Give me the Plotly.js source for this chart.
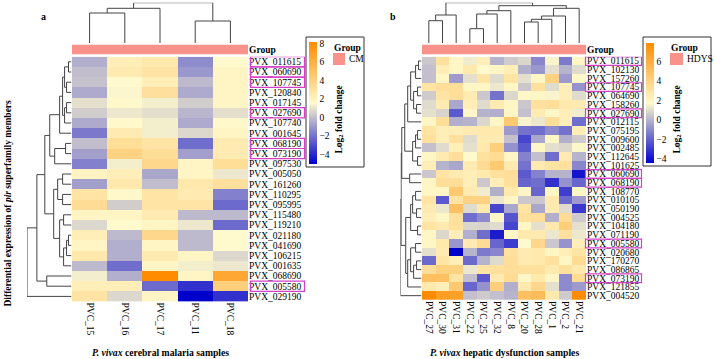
<!DOCTYPE html>
<html><head><meta charset="utf-8">
<script src="https://cdn.plot.ly/plotly-3.0.1.min.js"></script>
<style>html,body{margin:0;padding:0;background:#fff}#chart{width:714px;height:359px}</style>
</head><body><div id="chart"></div>
<script>
// ---------- DATA ----------
const colsA = ['PVC_15','PVC_16','PVC_17','PVC_11','PVC_18'];
const rowsA = ['PVX_011615','PVX_060690','PVX_107745','PVX_120840','PVX_017145','PVX_027690','PVX_107740','PVX_001645','PVX_068190','PVX_073190','PVX_097530','PVX_005050','PVX_161260','PVX_110295','PVX_095995','PVX_115480','PVX_119210','PVX_021180','PVX_041690','PVX_106215','PVX_001635','PVX_068690','PVX_005580','PVX_029190'];
const valuesA = [
 [-0.4, 2.3, 2.7, -1.3, 1.6],
 [ 0.0, 2.5, 2.9, -1.0, 1.9],
 [ 0.1, 1.6, 2.3, -0.1, 1.9],
 [-0.5, 1.5, 3.2, -0.5, 1.9],
 [ 0.9, 1.7, 1.3,  0.4, 1.9],
 [ 0.4, 1.1, 0.9, -0.2, 0.9],
 [-0.5, 1.7, 1.3, -0.5, 1.7],
 [-1.8, 2.5, 1.3,  0.7, 1.9],
 [ 0.0, 3.3, 2.9, -2.1, 2.5],
 [-0.8, 4.0, 3.3, -0.8, 2.5],
 [-1.6, 1.3, 3.7,  1.9, 3.3],
 [ 2.0, 2.3, -0.6, 1.9, 1.1],
 [-0.8, 2.7, 0.0,  2.7, 3.2],
 [ 2.9, 1.7, 2.9,  2.5, -1.6],
 [ 3.4, 0.4, 2.9,  2.9, -2.2],
 [ 1.9, 1.9, 2.5, -0.1, -0.1],
 [ 0.7, 1.6, 1.9,  1.1, -2.2],
 [ 2.3, -0.1, 3.7, -0.1, 1.6],
 [ 1.9, -0.4, 1.9, -0.1, 1.6],
 [ 2.7, -0.4, 2.5,  1.9, 0.7],
 [-0.1, -2.1, 1.9,  1.3, 1.1],
 [ 1.3, -0.4, 8.2,  1.9, 6.6],
 [ 2.3, 2.3, -2.2, -3.7, 4.2],
 [ 2.9, 0.7, 1.9, -5.0, -3.7]
];
const highlightA = ['PVX_011615','PVX_060690','PVX_107745','PVX_027690','PVX_068190','PVX_073190','PVX_005580'];
const groupA = 'CM';
const rangeA = [-5.0, 8.2];
const ticksA = [-4,-2,0,2,4,6,8];
// dendrograms: [childA, childB, height]; negative = leaf (1-based), positive = earlier merge (1-based)
const treeColsA = [[-1,-2,30],[1,-3,34.7],[-4,-5,22],[2,3,40.3]];
const treeRowsA = [
 [-1,-2,3],[-3,-4,5],[1,2,7],[-5,-6,5],[4,-7,7],[3,5,9],[6,-8,12],[-9,-10,6],[8,-11,17],[7,9,22],
 [-12,-13,9],[-14,-15,9],[11,12,14],[-16,-17,8],[-18,-19,3],[15,-20,5],[16,-21,8],[14,17,12],[13,18,18],
 [10,19,27],[-22,-23,25],[20,21,35],[22,-24,45]
];

const colsB = ['PVC_27','PVC_30','PVC_31','PVC_22','PVC_25','PVC_32','PVC_8','PVC_20','PVC_28','PVC_1','PVC_2','PVC_21'];
const rowsB = ['PVX_011615','PVX_102130','PVX_157260','PVX_107745','PVX_064690','PVX_158260','PVX_027690','PVX_012115','PVX_075195','PVX_009600','PVX_002485','PVX_112645','PVX_101625','PVX_060690','PVX_068190','PVX_108770','PVX_010105','PVX_050190','PVX_004525','PVX_104180','PVX_071190','PVX_005580','PVX_020680','PVX_170270','PVX_086865','PVX_073190','PVX_121855','PVX_004520'];
const valuesB = [
 [0.5, 3.2, 2.0, 1.4, 2.4, 0.0, 0.6, 0.9, -1.1, 1.6, -1.4, 2.0],
 [0.3, 2.4, 2.0, 2.7, 1.75, 2.0, 2.4, -0.1, -0.7, 1.1, 0.0, 1.0],
 [0.3, 2.0, -0.6, 1.1, 3.0, 1.0, 3.0, 1.1, 2.0, 4.0, -0.6, 1.9],
 [3.0, 3.3, 3.3, 2.0, 2.0, 1.3, 2.0, 0.5, 3.2, 1.0, 2.4, -0.8],
 [0.6, 3.0, 3.3, 2.6, 0.5, -1.6, 0.9, 1.9, 2.0, 1.6, 2.4, 1.0],
 [1.0, 2.6, -0.3, 2.4, 1.0, 2.6, 2.0, 0.5, 3.2, 3.3, 2.7, 2.6],
 [1.1, 0.8, -2.2, 1.9, 0.0, -0.1, 2.0, 0.3, 2.6, 1.9, 2.4, 1.4],
 [2.0, 3.3, -0.1, 0.0, 0.9, 2.0, 4.5, 1.6, 1.3, 3.3, 2.4, -1.7],
 [3.0, 2.4, 2.4, 2.6, 2.7, 2.7, -0.6, -1.6, -1.7, -1.0, -1.6, 2.4],
 [3.2, 2.4, 3.2, 1.0, 2.6, 2.6, 0.3, -2.7, -0.3, 2.0, -0.1, 0.6],
 [0.3, 1.0, 2.4, 1.1, 2.7, 4.2, -0.8, -2.2, 2.0, 1.1, 0.9, 1.9],
 [2.0, 2.6, 3.3, 1.75, 3.2, 3.5, 2.0, -1.2, 0.3, -1.7, 2.6, 0.0],
 [2.4, 0.0, -0.3, 2.6, 3.5, 4.5, 2.6, -1.6, 2.6, 3.0, 3.2, -1.1],
 [0.5, 3.0, 2.6, 2.4, 2.7, 3.2, 3.3, -2.2, -1.2, 0.0, 0.0, -3.9],
 [2.0, 3.3, 3.3, 2.4, 0.5, 2.4, 3.2, -1.9, -1.7, -3.2, -0.8, -1.9],
 [2.0, 2.0, 4.5, 2.6, 1.4, -0.1, 2.7, 2.0, -1.9, 2.0, -2.9, 2.0],
 [3.0, -2.2, 3.0, 4.0, 4.0, 1.3, 2.0, 0.5, 0.5, 2.7, -1.8, -0.6],
 [2.6, 1.3, 5.0, 1.0, 2.7, -2.7, -0.3, 3.0, -0.3, 2.6, 1.0, -3.0],
 [2.4, 2.0, 3.2, -1.7, -1.0, 2.0, -2.3, 3.2, 3.3, -0.1, 3.5, 0.6],
 [3.0, 2.7, 3.2, 0.9, 0.8, 1.0, -2.7, 2.0, 1.1, 2.7, 4.2, 1.1],
 [2.0, 0.9, 2.4, -0.1, -1.7, -3.7, 1.9, 2.7, 2.6, 1.3, 3.2, 1.3],
 [2.0, 2.7, -0.7, 2.6, 3.5, -1.9, -2.9, 1.75, 3.7, 0.5, -0.8, 2.4],
 [1.1, 2.6, -4.4, 0.0, -1.4, -1.1, 3.2, 2.6, 2.7, 2.0, 2.4, 3.0],
 [-1.8, 3.0, 2.4, -1.8, 0.0, 1.0, 3.3, 2.6, 2.7, 3.2, 2.0, 3.5],
 [3.3, 4.0, 4.0, 1.3, 3.0, 3.2, 3.3, 3.2, 3.2, 2.7, 3.2, 2.7],
 [5.0, 5.0, 3.0, 0.3, -2.2, 2.6, 3.5, 1.9, 2.7, 2.0, -1.0, 3.5],
 [2.7, 2.4, 4.5, -1.9, -0.8, 4.2, -0.1, 2.7, 3.7, 1.1, -1.0, -0.6],
 [7.9, 6.9, 6.7, 0.3, 0.6, 0.3, 0.0, 5.0, 5.2, 2.7, 0.6, 7.9]
];
const highlightB = ['PVX_011615','PVX_107745','PVX_027690','PVX_060690','PVX_068190','PVX_005580','PVX_073190'];
const groupB = 'HDYS';
const rangeB = [-4.4, 7.9];
const ticksB = [-4,-2,0,2,4,6];
const treeColsB = [[-1,-2,22.3],[1,-3,28],[-4,-5,14.3],[3,-6,29],[4,-7,32.3],[-8,-9,21],[6,-10,23.7],[7,-11,27],[8,-12,34.7],[5,9,37.3],[2,10,40.3]];
const treeRowsB = [
 [-1,-2,3],[1,-3,6],[-4,-5,4],[-6,-7,5],[3,4,8],[2,5,11],[6,-8,14],
 [-9,-10,4],[8,-11,6],[-12,-13,4],[9,10,9],[7,11,17],
 [-14,-15,12],
 [-16,-17,6],[-18,-19,5],[14,15,9],[-20,-21,4],[16,17,11],
 [-22,-23,6],[-24,-25,5],[20,-26,8],[19,21,11],[22,-27,14],[18,23,16],
 [12,13,20],[25,24,20.7],[26,-28,21.3]
];

// ---------- STYLE ----------
const W = 714, H = 359;
const FONT = 'Liberation Serif, Times New Roman, serif';
const colorscale = [[0,'#0000CD'],[0.5,'#FFFACD'],[1,'#FF8C00']];
const groupColor = '#F9928A';
const lineColor = '#444444';
const boxColor = '#D83FC8';
const px = v => v / W;
const py = v => 1 - v / H;
const idx = n => Array.from({length:n}, (_, i) => i);

function dendro(tree) {
  const pos = [], ht = [], p = [], h = [];
  const get = c => c < 0 ? [-c - 1, 0] : [pos[c - 1], ht[c - 1]];
  tree.forEach(m => {
    const [pa, ha] = get(m[0]), [pb, hb] = get(m[1]), hh = m[2];
    p.push(pa, pa, pb, pb, null); h.push(ha, hh, hh, hb, null);
    pos.push((pa + pb) / 2); ht.push(hh);
  });
  return {p, h};
}

const traces = [];
const shapes = [];
const annotations = [];

function panel(o) {
  traces.push({type:'heatmap', z:o.values, x:idx(o.cols.length), y:idx(o.rows.length),
    xaxis:o.xa, yaxis:o.ya, colorscale:colorscale, zmin:o.range[0], zmax:o.range[1], hoverinfo:'skip',
    colorbar:{x:px(o.cbX), xanchor:'left', y:py(o.cbYc), yanchor:'middle', len:o.cbLen, lenmode:'pixels',
      thickness:8, thicknessmode:'pixels', xpad:0, ypad:0, outlinewidth:0, tickmode:'array', tickvals:o.ticks,
      ticks:'', tickfont:{family:FONT, size:9.5, color:'#000'}, title:{text:''}}});
  traces.push({type:'heatmap', z:[o.cols.map(() => 1)], x:idx(o.cols.length), y:[0],
    xaxis:o.xa, yaxis:o.ga, colorscale:[[0,groupColor],[1,groupColor]], showscale:false, hoverinfo:'skip'});
  const dc = dendro(o.treeCols);
  traces.push({type:'scatter', mode:'lines', x:dc.p, y:dc.h, xaxis:o.xa, yaxis:o.dca,
    line:{color:lineColor, width:1}, cliponaxis:false, hoverinfo:'skip', connectgaps:false});
  const dr = dendro(o.treeRows);
  traces.push({type:'scatter', mode:'lines', x:dr.h, y:dr.p, xaxis:o.dra, yaxis:o.ya,
    line:{color:lineColor, width:1}, cliponaxis:false, hoverinfo:'skip', connectgaps:false});
  o.highlight.forEach(name => {
    const i = o.rows.indexOf(name);
    shapes.push({type:'rect', xref:'paper', yref:o.ya, x0:px(o.boxX0), x1:px(o.boxX1), y0:i - 0.5, y1:i + 0.5,
      line:{color:boxColor, width:1.2}, fillcolor:'rgba(0,0,0,0)'});
  });
  shapes.push({type:'rect', xref:'paper', yref:'paper', x0:px(o.lg[0]), x1:px(o.lg[1]), y0:py(o.lg[3]), y1:py(o.lg[2]),
    line:{color:'#333', width:1}, fillcolor:'rgba(0,0,0,0)'});
  shapes.push({type:'rect', xref:'paper', yref:'paper', x0:px(o.sw[0]), x1:px(o.sw[1]), y0:py(65), y1:py(53),
    line:{width:0}, fillcolor:groupColor});
  annotations.push({xref:'paper', yref:'paper', x:px(o.sw[0] - 1), y:py(47.5), xanchor:'left', yanchor:'middle',
    text:'<b>Group</b>', showarrow:false, font:{family:FONT, size:9.5}});
  annotations.push({xref:'paper', yref:'paper', x:px(o.sw[1] + 1.5), y:py(59.5), xanchor:'left', yanchor:'middle',
    text:o.group, showarrow:false, font:{family:FONT, size:9.5}});
  annotations.push({xref:'paper', yref:'paper', x:px(o.titleX), y:py(120), xanchor:'center', yanchor:'middle', textangle:-90,
    text:'<b>Log<sub>2</sub> fold change</b>', showarrow:false, font:{family:FONT, size:9.5}});
}

panel({values:valuesA, cols:colsA, rows:rowsA, range:rangeA, ticks:ticksA, treeCols:treeColsA, treeRows:treeRowsA,
  highlight:highlightA, group:groupA, xa:'x', ya:'y', ga:'y3', dca:'y2', dra:'x4',
  cbX:309, cbYc:102.6, cbLen:121.5, boxX0:250.5, boxX1:304.5, lg:[306,364,37,167], sw:[333,345], titleX:338.5});
panel({values:valuesB, cols:colsB, rows:rowsB, range:rangeB, ticks:ticksB, treeCols:treeColsB, treeRows:treeRowsB,
  highlight:highlightB, group:groupB, xa:'x5', ya:'y5', ga:'y7', dca:'y6', dra:'x8',
  cbX:646, cbYc:103, cbLen:120, boxX0:585.5, boxX1:641.5, lg:[643,711,37,166], sw:[670,683], titleX:676.5});

annotations.push({xref:'paper', yref:'paper', x:px(43), y:py(17), xanchor:'center', yanchor:'middle', text:'<b>a</b>', showarrow:false, font:{family:FONT, size:10}});
annotations.push({xref:'paper', yref:'paper', x:px(393), y:py(17), xanchor:'center', yanchor:'middle', text:'<b>b</b>', showarrow:false, font:{family:FONT, size:10}});
annotations.push({xref:'paper', yref:'paper', x:px(7.5), y:py(203), xanchor:'center', yanchor:'middle', textangle:-90,
  text:'<b>Differential expression of <i>pir</i> superfamily members</b>', showarrow:false, font:{family:FONT, size:9.5}});
annotations.push({xref:'paper', yref:'paper', x:px(160), y:py(352), xanchor:'center', yanchor:'middle',
  text:'<b><i>P. vivax</i> cerebral malaria samples</b>', showarrow:false, font:{family:FONT, size:9.7}});
annotations.push({xref:'paper', yref:'paper', x:px(504), y:py(352), xanchor:'center', yanchor:'middle',
  text:'<b><i>P. vivax</i> hepatic dysfunction samples</b>', showarrow:false, font:{family:FONT, size:9.7}});

const hid = {visible:false, fixedrange:true};
const tickFont = {family:FONT, size:9.5, color:'#000'};
const catX = (dom, cols, anchor) => ({domain:dom, range:[-0.5, cols.length - 0.5], anchor:anchor, tickmode:'array',
  tickvals:idx(cols.length), ticktext:cols, tickangle:90, ticks:'', showgrid:false, zeroline:false, showline:false, tickfont:tickFont, fixedrange:true});
const catY = (dom, rows, anchor) => ({domain:dom, range:[rows.length - 0.5, -0.5], anchor:anchor, side:'right', tickmode:'array',
  tickvals:idx(rows.length), ticktext:rows, ticks:'', showgrid:false, zeroline:false, showline:false, tickfont:tickFont, fixedrange:true});
const grpY = (dom, anchor) => ({domain:dom, range:[-0.5, 0.5], anchor:anchor, side:'right', tickmode:'array', tickvals:[0],
  ticktext:['<b>Group</b>'], ticks:'', showgrid:false, zeroline:false, showline:false, tickfont:tickFont, fixedrange:true});

const layout = {
  width:W, height:H, margin:{l:0, r:0, t:0, b:0}, paper_bgcolor:'#fff', plot_bgcolor:'rgba(0,0,0,0)', showlegend:false,
  font:{family:FONT, color:'#000', size:9.5},
  xaxis: catX([px(72), px(248)], colsA, 'y'),
  yaxis: catY([py(301.5), py(56.7)], rowsA, 'x'),
  yaxis2: Object.assign({domain:[py(43), py(2.7)], range:[0, 40.3], anchor:'x'}, hid),
  yaxis3: grpY([py(54.5), py(44.5)], 'x'),
  xaxis4: Object.assign({domain:[px(27), px(71.5)], range:[45, 0], anchor:'y'}, hid),
  xaxis5: catX([px(422), px(586)], colsB, 'y5'),
  yaxis5: catY([py(300), py(56.7)], rowsB, 'x5'),
  yaxis6: Object.assign({domain:[py(43), py(2.7)], range:[0, 40.3], anchor:'x5'}, hid),
  yaxis7: grpY([py(54.5), py(44.5)], 'x5'),
  xaxis8: Object.assign({domain:[px(400.5), px(421.5)], range:[21.3, 0], anchor:'y5'}, hid),
  shapes:shapes, annotations:annotations
};

Plotly.newPlot('chart', traces, layout, {displayModeBar:false, staticPlot:true});
</script></body></html>
